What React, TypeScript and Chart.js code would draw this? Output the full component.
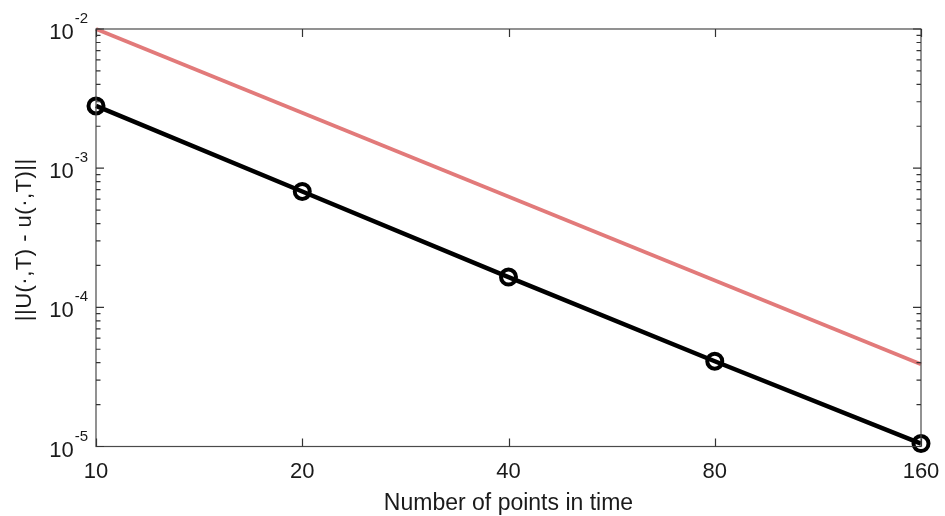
import React, { useEffect, useRef } from "react";
import { Chart, registerables } from "chart.js";

Chart.register(...registerables);

// Convergence data: error norm against number of time points
const nPoints = [10, 20, 40, 80, 160];
const errors = [2.8e-3, 6.8e-4, 1.65e-4, 4.1e-5, 1.05e-5];

// Second-order reference slope
const refX = [10, 160];
const refY = [1e-2, 3.9e-5];

const xTicks = [10, 20, 40, 80, 160];
const yExponents = [-5, -4, -3, -2];

const xTitle = "Number of points in time";
const yTitle = "||U(\u00b7,T) - u(\u00b7,T)||";

const FONT = "'Liberation Sans', Arial, Helvetica, sans-serif";

const axesPlugin = {
  id: "matlabAxes",
  afterDraw(chart: any) {
    const { ctx, chartArea } = chart;
    const { left, right, top, bottom } = chartArea;
    const xs = chart.scales.x;
    const ys = chart.scales.y;
    ctx.save();

    // frame
    ctx.strokeStyle = "#4a4a4a";
    ctx.lineWidth = 1.2;
    ctx.strokeRect(left, top, right - left, bottom - top);

    // x ticks (inward, top and bottom)
    ctx.strokeStyle = "#333";
    ctx.lineWidth = 1.2;
    const major = 8;
    const minor = 4.5;
    ctx.beginPath();
    for (const v of xTicks) {
      const px = Math.round(xs.getPixelForValue(v)) + 0.5;
      ctx.moveTo(px, bottom);
      ctx.lineTo(px, bottom - major);
      ctx.moveTo(px, top);
      ctx.lineTo(px, top + major);
    }
    // y ticks, major and minor, both sides
    for (const e of yExponents) {
      const py = ys.getPixelForValue(Math.pow(10, e));
      ctx.moveTo(left, py);
      ctx.lineTo(left + major, py);
      ctx.moveTo(right, py);
      ctx.lineTo(right - major, py);
      if (e < -2) {
        for (let m = 2; m <= 9; m++) {
          const pm = ys.getPixelForValue(m * Math.pow(10, e));
          ctx.moveTo(left, pm);
          ctx.lineTo(left + minor, pm);
          ctx.moveTo(right, pm);
          ctx.lineTo(right - minor, pm);
        }
      }
    }
    ctx.stroke();

    // x tick labels
    ctx.fillStyle = "#1a1a1a";
    ctx.font = `22px ${FONT}`;
    ctx.textAlign = "center";
    ctx.textBaseline = "alphabetic";
    for (const v of xTicks) {
      ctx.fillText(String(v), xs.getPixelForValue(v), bottom + 31);
    }

    // y tick labels: 10 with superscript exponent
    for (const e of yExponents) {
      const py = ys.getPixelForValue(Math.pow(10, e));
      ctx.font = `15px ${FONT}`;
      const expText = String(e);
      const expW = ctx.measureText(expText).width;
      const expRight = left - 8;
      ctx.textAlign = "left";
      ctx.fillText(expText, expRight - expW, py - 6);
      ctx.font = `22px ${FONT}`;
      ctx.textAlign = "right";
      ctx.fillText("10", expRight - expW - 1, py + 10);
    }

    // x axis title
    ctx.font = `23px ${FONT}`;
    ctx.textAlign = "center";
    ctx.fillText(xTitle, (left + right) / 2, bottom + 63);

    // y axis title
    ctx.translate(31, (top + bottom) / 2 + 2);
    ctx.rotate(-Math.PI / 2);
    ctx.font = `22px ${FONT}`;
    (ctx as any).letterSpacing = "0.5px";
    ctx.textAlign = "center";
    ctx.fillText(yTitle, 0, 0);
    ctx.restore();
  },
};

export default function App() {
  const canvasRef = useRef<HTMLCanvasElement | null>(null);

  useEffect(() => {
    if (!canvasRef.current) return;
    const chart = new Chart(canvasRef.current, {
      type: "line",
      data: {
        datasets: [
          {
            label: "reference",
            data: refX.map((x, i) => ({ x, y: refY[i] })),
            borderColor: "rgb(226,122,122)",
            borderWidth: 4,
            pointRadius: 0,
            fill: false,
            clip: false as any,
          },
          {
            label: "error",
            data: nPoints.map((x, i) => ({ x, y: errors[i] })),
            borderColor: "#000",
            borderWidth: 4.5,
            pointRadius: 7.5,
            pointBorderWidth: 4,
            pointBorderColor: "#000",
            pointBackgroundColor: "rgba(0,0,0,0)",
            pointStyle: "circle",
            fill: false,
            clip: false as any,
          },
        ],
      },
      options: {
        responsive: false,
        animation: false,
        layout: { padding: { left: 96, right: 24, top: 29, bottom: 69.5 } },
        plugins: {
          legend: { display: false },
          tooltip: { enabled: false },
        },
        scales: {
          x: { type: "logarithmic", min: 10, max: 160, display: false },
          y: { type: "logarithmic", min: 1e-5, max: 1e-2, display: false },
        },
      },
      plugins: [axesPlugin],
    });
    return () => chart.destroy();
  }, []);

  return (
    <div
      style={{
        position: "fixed",
        left: 0,
        top: 0,
        width: 945,
        height: 516,
        background: "#fff",
      }}
    >
      <canvas ref={canvasRef} width={945} height={516} />
    </div>
  );
}
